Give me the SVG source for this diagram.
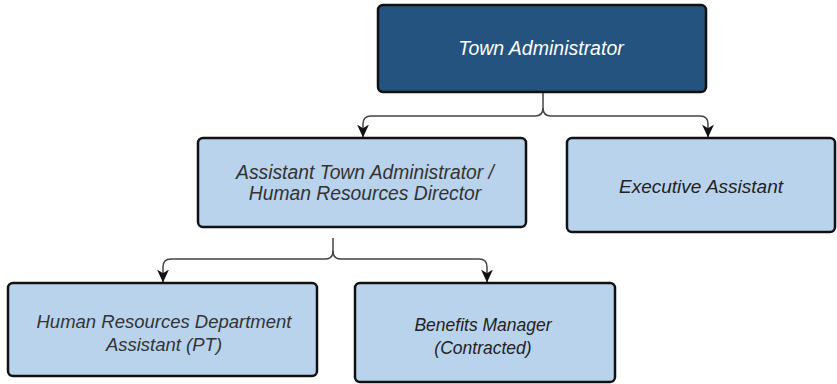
<svg xmlns="http://www.w3.org/2000/svg" width="837" height="384" viewBox="0 0 837 384">
<defs>
<marker id="arr" viewBox="0 0 12 12" refX="11.5" refY="6" markerWidth="13" markerHeight="13" markerUnits="userSpaceOnUse" orient="auto">
<path d="M0,0.5 L12,6 L0,11.5 L3.5,6 Z" fill="#111"/>
</marker>
<style>
.box{fill:#b9d3ec;stroke:#111;stroke-width:2.5}
.dark{fill:#23537e;stroke:#111;stroke-width:2.5}
.t{font-family:"Liberation Sans",Arial,sans-serif;font-style:italic;text-anchor:middle;fill:#333}
.w{fill:#ffffff}
.c{fill:none;stroke:#444;stroke-width:1.5}
</style>
</defs>
<rect width="837" height="384" fill="#ffffff"/>
<g id="connectors">
<path class="c" d="M543 92 V108 Q543 116 535 116 H371 Q363 116 363 124 V137" marker-end="url(#arr)"/>
<path class="c" d="M543 108 Q543 116 551 116 H700 Q708 116 708 124 V137" marker-end="url(#arr)"/>
<path class="c" d="M333 238 V251 Q333 259 325 259 H171 Q163 259 163 267 V282" marker-end="url(#arr)"/>
<path class="c" d="M333 251 Q333 259 341 259 H479 Q487 259 487 267 V282" marker-end="url(#arr)"/>
</g>
<g id="town-administrator">
<rect class="dark" x="378" y="5" width="328" height="87" rx="5"/>
<text class="t w" x="541" y="55" font-size="19.5">Town Administrator</text>
</g>
<g id="assistant-town-administrator">
<rect class="box" x="198" y="138" width="328" height="89" rx="5"/>
<text class="t" x="365" y="179" font-size="19.3">Assistant Town Administrator /</text>
<text class="t" x="365" y="200" font-size="19.3">Human Resources Director</text>
</g>
<g id="executive-assistant">
<rect class="box" x="567" y="138" width="268" height="94" rx="5"/>
<text class="t" x="701" y="193" font-size="19" style="fill:#222">Executive Assistant</text>
</g>
<g id="hr-department-assistant">
<rect class="box" x="8" y="283" width="309" height="93" rx="5"/>
<text class="t" x="164" y="328" font-size="18.5">Human Resources Department</text>
<text class="t" x="164" y="351" font-size="18.5">Assistant (PT)</text>
</g>
<g id="benefits-manager">
<rect class="box" x="355" y="283" width="260" height="99" rx="5"/>
<text class="t" x="483" y="331" font-size="17.5" style="fill:#222">Benefits Manager</text>
<text class="t" x="483" y="354" font-size="17.5" style="fill:#222">(Contracted)</text>
</g>
</svg>
